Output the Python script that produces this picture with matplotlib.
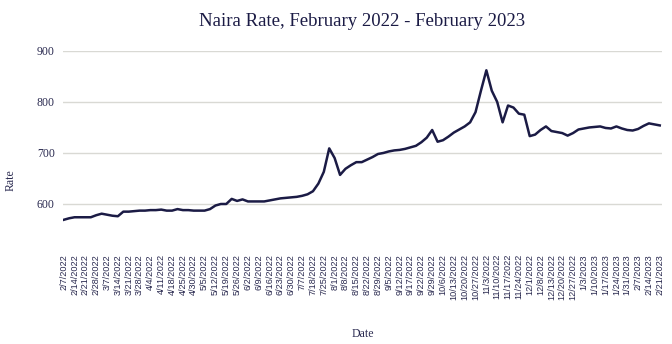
import matplotlib.pyplot as plt
import numpy as np

# labelled dates on the category axis (one every second sample)
dates = [
    '2/7/2022', '2/14/2022', '2/21/2022', '2/28/2022', '3/7/2022', '3/14/2022',
    '3/21/2022', '3/28/2022', '4/4/2022', '4/11/2022', '4/18/2022', '4/25/2022',
    '4/30/2022', '5/5/2022', '5/12/2022', '5/19/2022', '5/26/2022', '6/2/2022',
    '6/9/2022', '6/16/2022', '6/23/2022', '6/30/2022', '7/7/2022', '7/18/2022',
    '7/25/2022', '8/1/2022', '8/8/2022', '8/15/2022', '8/22/2022', '8/29/2022',
    '9/5/2022', '9/12/2022', '9/17/2022', '9/22/2022', '9/29/2022', '10/6/2022',
    '10/13/2022', '10/20/2022', '10/27/2022', '11/3/2022', '11/10/2022',
    '11/17/2022', '11/24/2022', '12/1/2022', '12/8/2022', '12/13/2022',
    '12/20/2022', '12/27/2022', '1/3/2023', '1/10/2023', '1/17/2023',
    '1/24/2023', '1/31/2023', '2/7/2023', '2/14/2023', '2/21/2023',
]

# naira rate, two samples per labelled date
rate = [
    569, 572, 574, 574, 574, 574, 578, 581, 579, 577,
    576, 585, 585, 586, 587, 587, 588, 588, 589, 587,
    587, 590, 588, 588, 587, 587, 587, 590, 597, 600,
    600, 610, 606, 609, 605, 605, 605, 605, 607, 609,
    611, 612, 613, 614, 616, 619, 625, 640, 663, 709,
    690, 657, 669, 676, 682, 682, 687, 692, 698, 700,
    703, 705, 706, 708, 711, 714, 721, 730, 745, 722,
    725, 732, 740, 746, 752, 760, 780, 822, 862, 822,
    800, 760, 793, 789, 777, 775, 733, 736, 745, 752,
    743, 741, 739, 734, 739, 746, 748, 750, 751, 752,
    749, 748, 752, 748, 745, 744, 747, 753, 758, 756,
    754,
]

navy = '#1b1b45'
text_col = '#2a2a50'
serif = ['Liberation Serif', 'DejaVu Serif']

fig = plt.figure(figsize=(6.72, 3.44), dpi=100)
ax = fig.add_axes([0.094, 0.318, 0.891, 0.534])

x = np.arange(len(rate))
ax.plot(x, rate, color=navy, linewidth=1.8, solid_joinstyle='round')

ax.set_xlim(-0.1, 110.4)
ax.set_ylim(540, 900)
ax.set_yticks([600, 700, 800, 900])
ax.set_xticks(x[::2])
ax.set_xticklabels(dates, rotation=90, fontsize=6.6, family='Liberation Sans',
                   color=text_col)
for lbl in ax.get_yticklabels():
    lbl.set_family(serif)
    lbl.set_fontsize(8.5)
    lbl.set_color(text_col)

ax.grid(axis='y', color='#d9d9d4', linewidth=1.0)
ax.set_axisbelow(True)
for s in ax.spines.values():
    s.set_visible(False)
ax.tick_params(axis='x', length=0, pad=14)
ax.tick_params(axis='y', length=0, pad=6)

ax.set_title('Naira Rate, February 2022 - February 2023', family=serif,
             fontsize=13.5, color=navy, pad=18)
ax.set_ylabel('Rate', family=serif, fontsize=8.5, color=text_col)
ax.yaxis.set_label_coords(-0.077, 0.297)
ax.set_xlabel('Date', family=serif, fontsize=8.5, color=text_col)
ax.xaxis.set_label_coords(0.5, -0.51)

fig.savefig('out.png', dpi=100)
